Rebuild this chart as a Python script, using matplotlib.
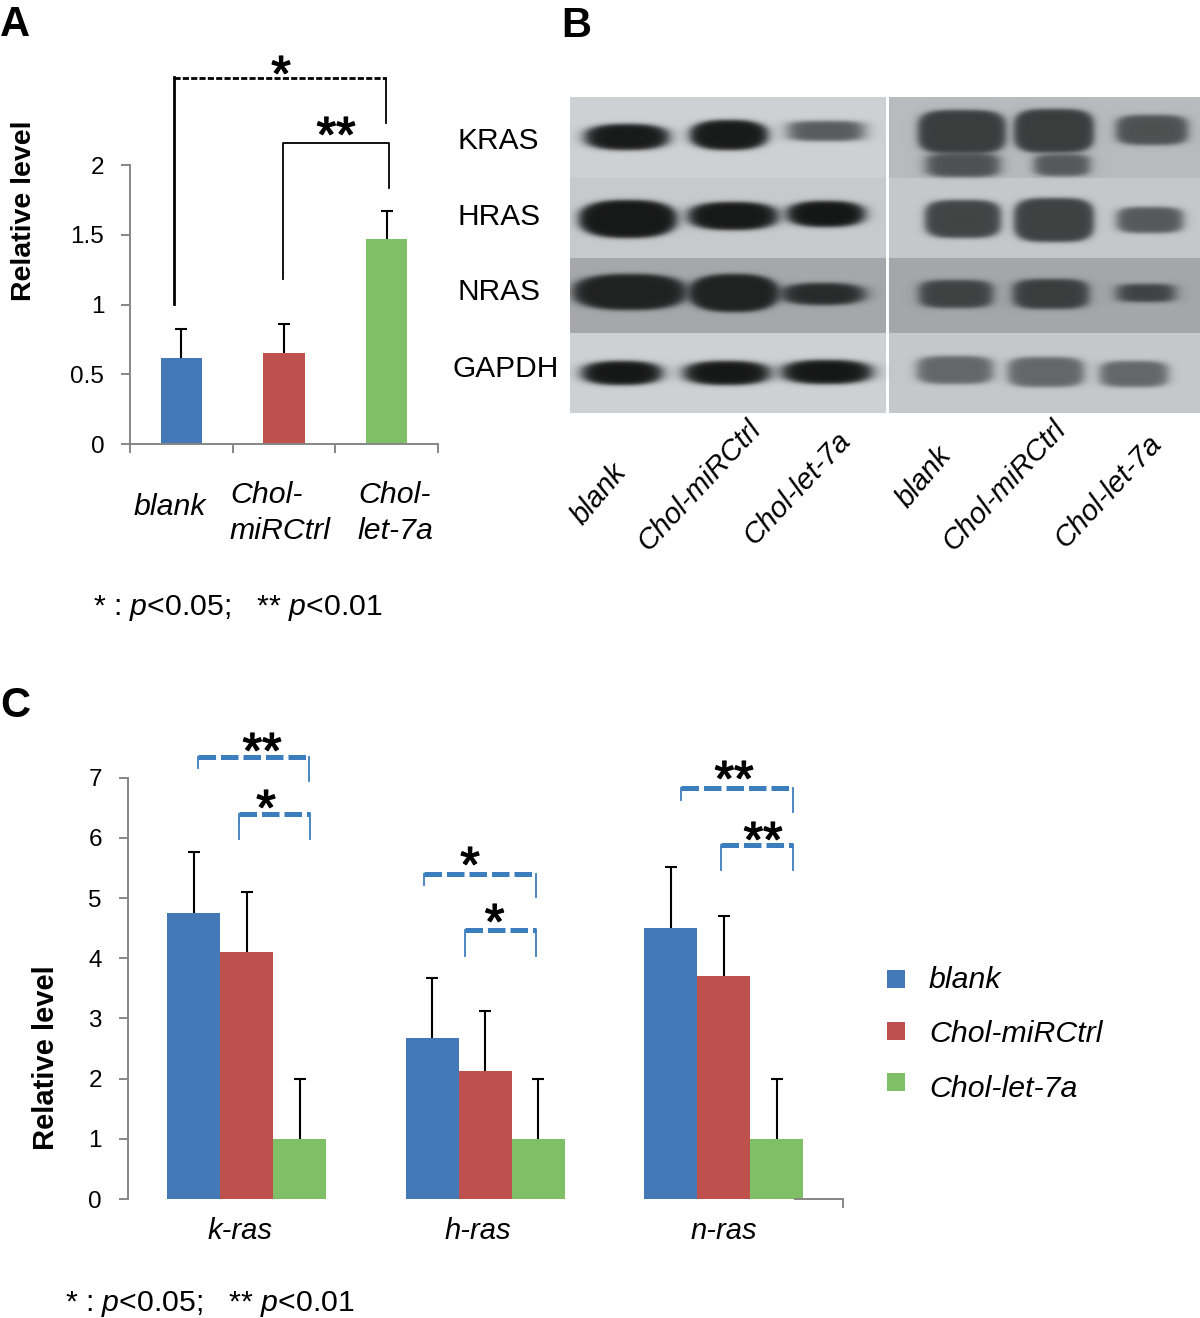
#!/usr/bin/env python3
"""Three-panel figure: qPCR bars (A, C) and western blot (B)."""

import numpy as np
import matplotlib
matplotlib.use("Agg")
import matplotlib.pyplot as plt
import matplotlib.patheffects as pe
from matplotlib.patches import Rectangle

plt.rcParams["font.family"] = ["Liberation Sans", "DejaVu Sans"]
plt.rcParams["mathtext.fontset"] = "custom"
plt.rcParams["mathtext.rm"] = "Liberation Sans"
plt.rcParams["mathtext.it"] = "Liberation Sans:italic"

W, H = 1200, 1318

BLUE, RED, GREEN = "#4279B6", "#BE504E", "#7FBF66"
GREY = "#868686"
BRACKET = "#3B7DBD"

# panel A
A_LABELS = ["blank", "Chol-\nmiRCtrl", "Chol-\nlet-7a"]
A_VALUES = [0.62, 0.656, 1.47]
A_ERRORS = [0.204, 0.204, 0.20]
A_TICKS = [0, 0.5, 1, 1.5, 2]
A_TICKLABELS = ["0", "0.5", "1", "1.5", "2"]

# panel C
C_GENES = ["k-ras", "h-ras", "n-ras"]
C_SERIES = ["blank", "Chol-miRCtrl", "Chol-let-7a"]
C_BLANK = [4.76, 2.67, 4.51]
C_MIRCTRL = [4.10, 2.12, 3.70]
C_LET7A = [1.0, 1.0, 1.0]
C_BLANK_ERR = [1.0, 1.01, 1.01]
C_MIRCTRL_ERR = [1.0, 1.0, 1.01]
C_LET7A_ERR = [1.0, 1.0, 1.0]

BLOT_ROWS = ["KRAS", "HRAS", "NRAS", "GAPDH"]
BLOT_LANES = ["blank", "Chol-miRCtrl", "Chol-let-7a"]
ROW_EDGES = [97, 178, 258, 333, 413]
LEFT_BG = [210, 203, 168, 210]
RIGHT_BG = [187, 201, 167, 201]
BANDS = [
    (627, 137, 42, 13, 26), (729, 135, 39, 15, 26), (826, 131, 38, 10, 90),
    (628, 219, 49, 19, 24), (733, 216, 45, 14, 24), (826, 214, 39, 13, 22),
    (630, 292, 57, 18, 33), (734, 293, 45, 19, 33), (823, 294, 42, 11, 42),
    (622, 373, 40, 12, 23), (727, 373, 43, 12, 23), (827, 372, 45, 12, 23),
    (962, 132, 44, 22, 60), (1054, 131, 40, 22, 60), (1152, 130, 36, 15, 80),
    (963, 165, 37, 12, 80), (1062, 165, 28, 11, 88),
    (963, 219, 38, 19, 68), (1054, 220, 40, 22, 65), (1150, 220, 33, 13, 88),
    (956, 294, 37, 14, 65), (1051, 294, 38, 15, 60), (1146, 293, 29, 9, 65),
    (955, 370, 38, 14, 102), (1046, 372, 38, 15, 102), (1134, 374, 34, 13, 102),
]


def px_axes(fig, left, top, right, bottom):
    return fig.add_axes([left / W, 1 - bottom / H, (right - left) / W, (bottom - top) / H])


def style_axis(ax):
    ax.spines["top"].set_visible(False)
    ax.spines["right"].set_visible(False)
    for side in ("left", "bottom"):
        ax.spines[side].set_color(GREY)
        ax.spines[side].set_linewidth(1.4)
    ax.patch.set_alpha(0)
    ax.tick_params(length=6.5, width=1.4, color=GREY, labelsize=17.5)
    ax.tick_params(axis="y", pad=12)


def up_errors(ax, xs, vals, errs):
    _, caps, _ = ax.errorbar(xs, vals, yerr=[np.zeros(3), errs], fmt="none", ecolor="black",
                             elinewidth=1.5, capsize=4, capthick=1.5)
    caps[0].set_visible(False)


def blot_image():
    xs, ys = np.meshgrid(np.arange(570, 1200) + 0.5, np.arange(97, 413) + 0.5)
    img = np.full(xs.shape, 255.0)
    for i in range(4):
        rows = (ys >= ROW_EDGES[i]) & (ys < ROW_EDGES[i + 1])
        img[rows & (xs < 886)] = LEFT_BG[i]
        img[rows & (xs >= 889)] = RIGHT_BG[i]
    for cx, cy, hw, hh, grey in BANDS:
        power = 3.6 if grey > 55 else 2.5
        d = (np.abs((xs - cx) / hw) ** power + np.abs((ys - cy) / hh) ** power) ** (1 / power)
        alpha = 1 / (1 + np.exp(np.clip((d - 1) * min(hw, hh) / 1.2, -30, 30)))
        img = img * (1 - alpha) + grey * alpha
    # slight cold tint of the scanned film
    return np.clip(np.dstack([img * 0.985, img, img * 1.012]) / 255, 0, 1)


def star(ax, x, y, s, size=36):
    # y is the middle of the glyph, the baseline sits lower
    ax.text(x, y + size * 1.389 * 0.47, s, ha="center", va="baseline", fontsize=size, color="black",
            path_effects=[pe.withStroke(linewidth=1.0, foreground="black")])


fig = plt.figure(figsize=(W / 100, H / 100), dpi=100)

# ----- overlay in pixel coordinates for blot, brackets and loose text -----
over = fig.add_axes([0, 0, 1, 1], zorder=5)
over.imshow(blot_image(), extent=(570, 1200, 413, 97), aspect="auto", interpolation="bilinear")
over.set_xlim(0, W)
over.set_ylim(H, 0)
over.axis("off")
over.patch.set_alpha(0)

# ----- A -----
ax_a = px_axes(fig, 130, 165, 438, 444.3)
ax_a.set_zorder(6)
xa = np.arange(3) + 0.5
ax_a.bar(xa, A_VALUES, width=0.4, color=[BLUE, RED, GREEN], linewidth=0)
up_errors(ax_a, xa, A_VALUES, A_ERRORS)
ax_a.set_xlim(0, 3)
ax_a.set_ylim(0, 2)
ax_a.set_xticks([0, 1, 2, 3])
ax_a.set_xticklabels([])
ax_a.set_yticks(A_TICKS)
ax_a.set_yticklabels(A_TICKLABELS)
style_axis(ax_a)

over.text(24, 211, "Relative level", rotation=90, ha="center", va="center", fontsize=20.5,
          fontweight="bold")
for x, y, s, ha in zip([170, 230, 358], [507, 513, 513], A_LABELS, ["center", "left", "left"]):
    over.text(x, y, s, ha=ha, va="center", fontsize=21.8, style="italic", linespacing=1.33)
over.text(93, 608, r"* : $\mathit{p}$<0.05;   ** $\mathit{p}$<0.01", ha="left", va="center", fontsize=21.8)

over.plot([173.5, 386], [78, 78], color="black", lw=2, ls=(0, (2.2, 0.8)))
over.plot([173.5, 173.5], [77, 304], color="black", lw=2)
over.plot([386, 386], [78, 123], color="black", lw=1.3)
over.plot([283, 283, 389, 389], [279, 143, 143, 188], color="black", lw=1.3)
star(over, 281, 67, "*")
star(over, 336, 128, "**")

# ----- B -----
for y, x, s in zip([141, 217, 292, 369], [458, 458, 458, 453], BLOT_ROWS):
    over.text(x, y, s, ha="left", va="center", fontsize=21.5)
lane_x = [599, 699, 797, 924, 1004, 1108]
lane_y = [494, 486, 488, 477, 486, 491]
lane_rot = [50, 47, 47, 50, 47, 47]
for x, y, rot, s in zip(lane_x, lane_y, lane_rot, BLOT_LANES * 2):
    over.text(x, y, s, ha="center", va="center", rotation=rot, rotation_mode="anchor",
              fontsize=21, style="italic")

# ----- C -----
ax_c = px_axes(fig, 127.6, 777.7, 843, 1199)
ax_c.set_zorder(6)
xc = np.arange(3) + 0.5
bw = 0.2225
ax_c.bar(xc - bw, C_BLANK, width=bw, color=BLUE, linewidth=0)
ax_c.bar(xc, C_MIRCTRL, width=bw, color=RED, linewidth=0)
ax_c.bar(xc + bw, C_LET7A, width=bw, color=GREEN, linewidth=0)
up_errors(ax_c, xc - bw, C_BLANK, C_BLANK_ERR)
up_errors(ax_c, xc, C_MIRCTRL, C_MIRCTRL_ERR)
up_errors(ax_c, xc + bw, C_LET7A, C_LET7A_ERR)
ax_c.set_xlim(0, 3)
ax_c.set_ylim(0, 7)
ax_c.set_yticks(range(8))
ax_c.set_xticks([3])
ax_c.set_xticklabels([""])
style_axis(ax_c)
ax_c.spines["bottom"].set_bounds(2.8, 3)

for x, s in zip([240, 478, 724], C_GENES):
    over.text(x, 1231, s, ha="center", va="center", fontsize=21, style="italic")
over.text(46, 1058, "Relative level", rotation=90, ha="center", va="center", fontsize=21,
          fontweight="bold")
over.text(65, 1304, r"* : $\mathit{p}$<0.05;   ** $\mathit{p}$<0.01", ha="left", va="center", fontsize=21.8)

BRACKETS = [
    (198, 309.4, 756.7, 768, 780.7), (238.5, 310, 814, 839, 839),
    (424, 536, 873.7, 885, 897), (464.5, 536, 930, 956, 956),
    (680.7, 793, 788, 800, 811.5), (721, 793, 844.7, 870, 870),
]
for x0, x1, top, low0, low1 in BRACKETS:
    over.plot([x0, x1], [top, top], color=BRACKET, lw=3.6, ls=(0, (3.5, 1.0)), dash_capstyle="butt")
    over.plot([x0, x0], [top, low0], color=BRACKET, lw=1.3)
    over.plot([x1, x1], [top, low1], color=BRACKET, lw=1.3)
for x, y, s in zip([262, 266, 470, 494.6, 734, 763], [744, 801, 858, 915, 772, 833],
                   ["**", "*", "*", "*", "**", "**"]):
    star(over, x, y, s)

# legend: swatches and labels are spaced differently in the original
for y0, y1, col, s in zip([970, 1022, 1073], [980, 1034, 1089], [BLUE, RED, GREEN], C_SERIES):
    over.add_patch(Rectangle((887.3, y0), 17.4, 17.6, color=col, linewidth=0))
    over.text(929, y1, s, ha="left", va="center", fontsize=21.8, style="italic")

# ----- panel letters -----
for x, y, s in zip([0, 561, 0], [36, 37, 717], ["A", "B", "C"]):
    over.text(x, y, s, ha="left", va="baseline", fontsize=30, fontweight="bold")

fig.savefig("out.png", dpi=100)
